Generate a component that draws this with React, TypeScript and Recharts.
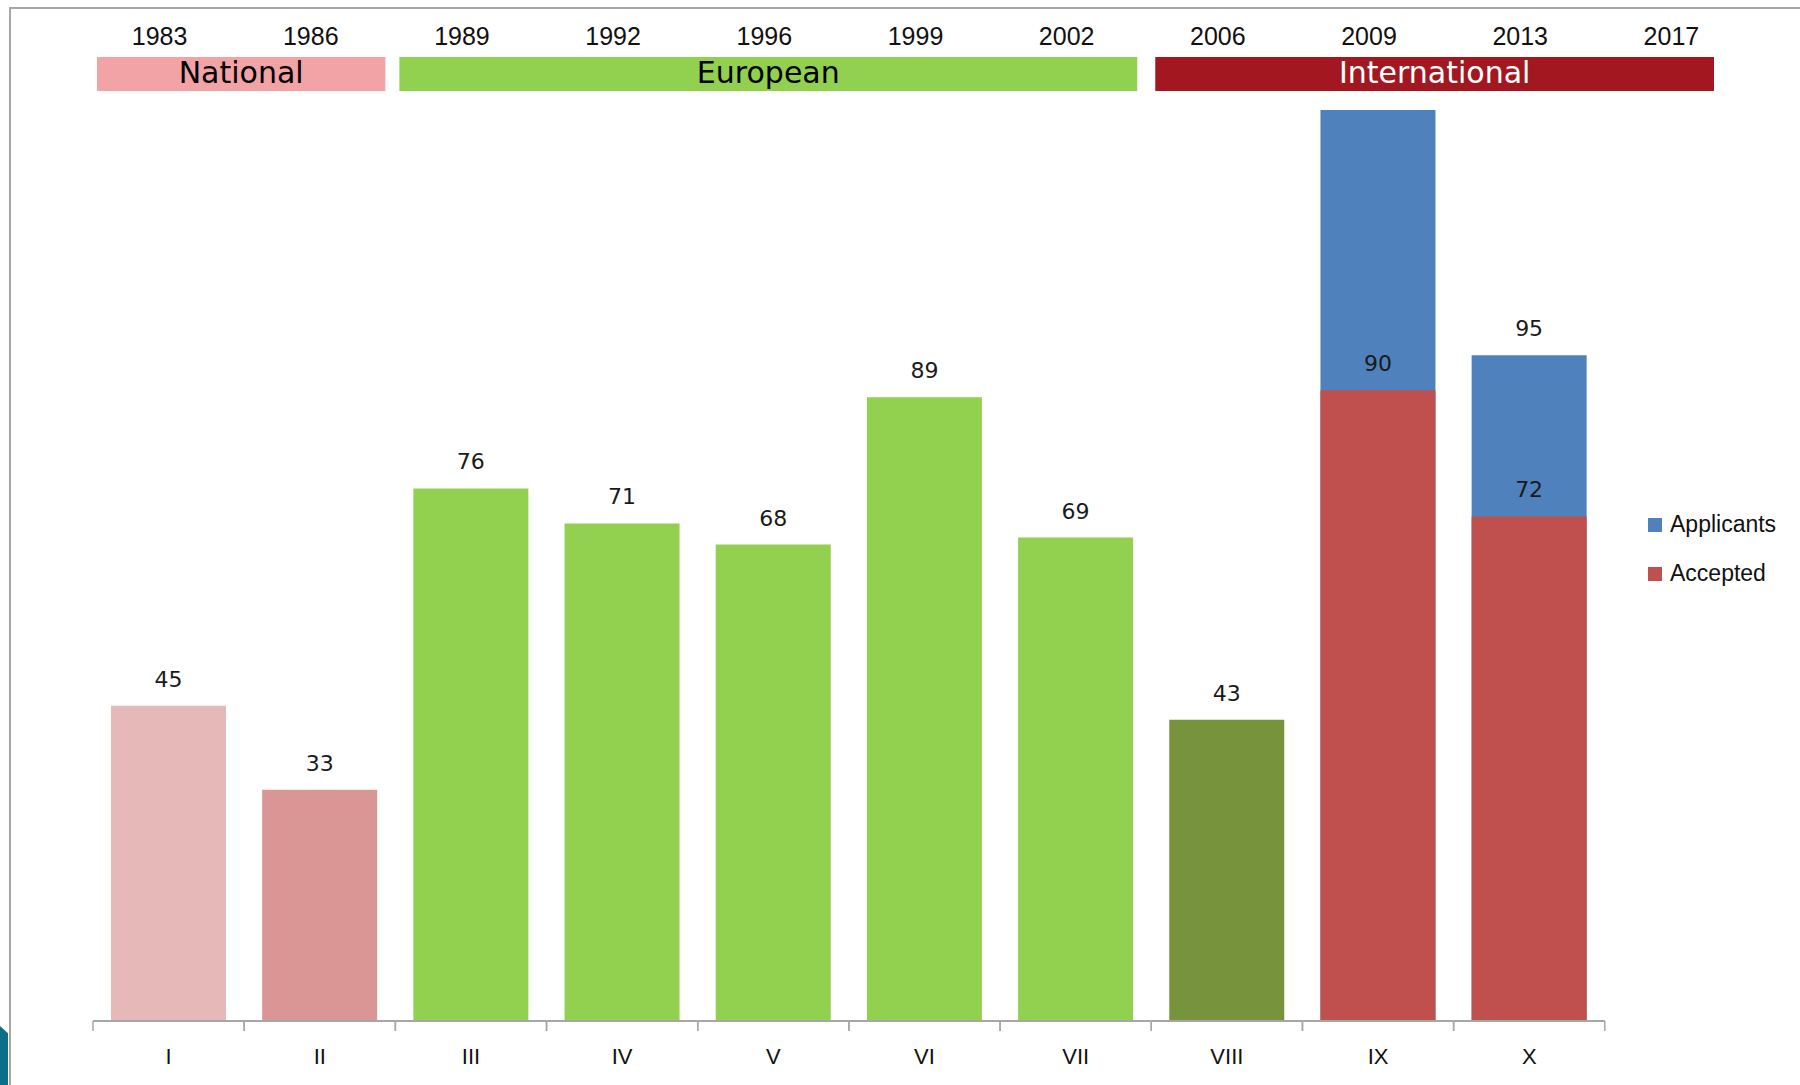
import React from "react";
import { ComposedChart, Bar, XAxis, YAxis, Cell, LabelList, ReferenceArea, Legend } from "recharts";

// categories (the 11th slot only carries the last year above the chart)
const romans = ["I", "II", "III", "IV", "V", "VI", "VII", "VIII", "IX", "X", ""];
const years = ["1983", "1986", "1989", "1992", "1996", "1999", "2002", "2006", "2009", "2013", "2017"];

const accepted = [45, 33, 76, 71, 68, 89, 69, 43, 90, 72, null];
const applicants = [null, null, null, null, null, null, null, null, 130, 95, null];

const barColors = ["#e6b8b7", "#da9694", "#92d050", "#92d050", "#92d050", "#92d050", "#92d050", "#77933c", "#c0504d", "#c0504d", "#c0504d"];

const periods = [
  { name: "National", from: "1983", to: "1986", fill: "#f2a3a5", color: "#000" },
  { name: "European", from: "1989", to: "2002", fill: "#92d050", color: "#000" },
  { name: "International", from: "2006", to: "2017", fill: "#a31820", color: "#fff" },
];

// how much of its last slot each period strip leaves empty
const periodRightTrim: Record<string, number> = { National: 10, European: 14, International: 42 };

const seriesOrder = ["Applicants", "Accepted"];

const data = romans.map((roman, i) => ({
  roman,
  year: years[i],
  accepted: accepted[i],
  applicants: applicants[i],
}));

const W = 1800;
const H = 1085;
const MARGIN = { top: 0, right: 44, bottom: 0, left: 93 };
const SLOT = (W - MARGIN.left - MARGIN.right) / romans.length;
const AXIS = "#a6a6a6";
const SANS = "'DejaVu Sans', sans-serif";
const PLAIN = "'Liberation Sans', Arial, sans-serif";
const STRIP_TOP = 57;
const STRIP_H = 34;

function RomanTick({ x, y, payload }: any) {
  if (!payload.value) return null;
  const left = x - SLOT / 2;
  const right = x + SLOT / 2;
  return (
    <g>
      <line x1={left} x2={right} y1={y} y2={y} stroke={AXIS} strokeWidth={2} />
      <line x1={left} x2={left} y1={y} y2={y + 10} stroke={AXIS} strokeWidth={1.5} />
      <line x1={right} x2={right} y1={y} y2={y + 10} stroke={AXIS} strokeWidth={1.5} />
      <text x={x} y={y + 43} textAnchor="middle" fontSize={22} fontFamily={PLAIN} fill="#111">
        {payload.value}
      </text>
    </g>
  );
}

function YearTick({ x, y, payload }: any) {
  return (
    <text x={x - 9} y={y + 5} textAnchor="middle" fontSize={25} fontFamily={PLAIN} fill="#111">
      {payload.value}
    </text>
  );
}

// value above the bar; a value that would sit under the period strip stays hidden, as in the original
function TopLabel({ x, y, width, value }: any) {
  if (value == null) return null;
  const base = y - 19;
  if (base - 17 < STRIP_TOP + STRIP_H) return null;
  return (
    <text x={x + width / 2} y={base} textAnchor="middle" fontSize={22} fontFamily={SANS} fill="#1a1a1a">
      {value}
    </text>
  );
}

function PeriodShape(props: any) {
  const { x, width, period } = props;
  const left = x + 4;
  const w = width - 4 - (periodRightTrim[period.name] || 0);
  return (
    <g>
      <rect x={left} y={STRIP_TOP} width={w} height={STRIP_H} fill={period.fill} />
      <text x={left + w / 2} y={STRIP_TOP + 26} textAnchor="middle" fontSize={30} fontFamily={SANS} fill={period.color}>
        {period.name}
      </text>
    </g>
  );
}

function LegendContent({ payload }: any) {
  const items = [...(payload || [])].sort(
    (a: any, b: any) => seriesOrder.indexOf(a.value) - seriesOrder.indexOf(b.value)
  );
  return (
    <div>
      {items.map((item: any) => (
        <div key={item.value} style={{ display: "flex", alignItems: "center", height: 49 }}>
          <span style={{ width: 14, height: 14, background: item.color, display: "inline-block", marginRight: 8 }} />
          <span style={{ fontSize: 23, fontFamily: PLAIN, color: "#111" }}>{item.value}</span>
        </div>
      ))}
    </div>
  );
}

export default function App() {
  return (
    <div style={{ position: "fixed", left: 0, top: 0, width: W, height: H, background: "#fff", overflow: "hidden" }}>
      <div
        style={{
          position: "absolute",
          left: 9,
          top: 7,
          right: 0,
          bottom: 0,
          borderTop: `2px solid ${AXIS}`,
          borderLeft: `2px solid ${AXIS}`,
        }}
      />
      <div
        style={{
          position: "absolute",
          left: 0,
          top: 1026,
          width: 8,
          height: 60,
          background: "#0b6f8a",
          clipPath: "polygon(0 0, 100% 12%, 100% 100%, 0 100%)",
        }}
      />
      <div style={{ position: "absolute", left: 0, top: 0 }}>
        <ComposedChart width={W} height={H} data={data} margin={MARGIN} barGap={-115}>
          <XAxis
            dataKey="roman"
            height={64}
            interval={0}
            axisLine={false}
            tickLine={false}
            tickSize={0}
            tickMargin={0}
            tick={<RomanTick />}
          />
          <XAxis
            xAxisId="years"
            dataKey="year"
            orientation="top"
            height={40}
            interval={0}
            axisLine={false}
            tickLine={false}
            tickSize={0}
            tickMargin={0}
            tick={<YearTick />}
          />
          <YAxis
            domain={[0, 140]}
            width={0}
            tick={false}
            tickLine={false}
            axisLine={{ stroke: AXIS, strokeWidth: 2 }}
          />
          <Bar dataKey="applicants" name="Applicants" fill="#4f81bd" barSize={115} isAnimationActive={false}>
            <LabelList dataKey="applicants" content={<TopLabel />} />
          </Bar>
          <Bar dataKey="accepted" name="Accepted" fill="#c0504d" barSize={115} isAnimationActive={false}>
            {data.map((d, i) => (
              <Cell key={d.year} fill={barColors[i]} />
            ))}
            <LabelList dataKey="accepted" content={<TopLabel />} />
          </Bar>
          {periods.map((p) => (
            <ReferenceArea
              key={p.name}
              xAxisId="years"
              x1={p.from}
              x2={p.to}
              ifOverflow="visible"
              zIndex={2500}
              shape={(props: any) => <PeriodShape {...props} period={p} />}
            />
          ))}
          <Legend
            layout="vertical"
            align="center"
            verticalAlign="middle"
            wrapperStyle={{ position: "absolute", left: 1648, top: 500, width: 150 }}
            content={<LegendContent />}
          />
        </ComposedChart>
      </div>
    </div>
  );
}
